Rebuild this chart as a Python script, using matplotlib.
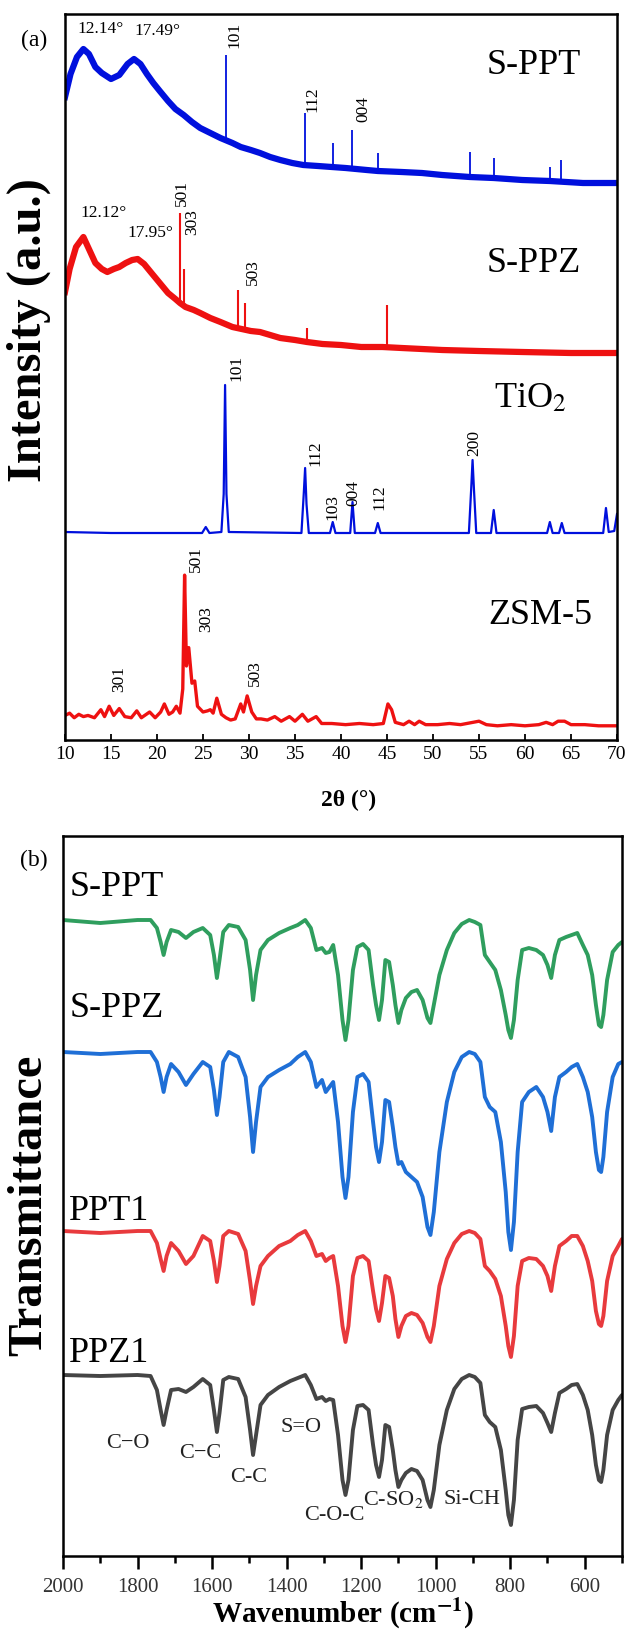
import numpy as np
import matplotlib
matplotlib.use("Agg")
import matplotlib.pyplot as plt
from matplotlib.ticker import MultipleLocator

plt.rcParams["font.family"] = ["Liberation Serif", "DejaVu Serif"]
plt.rcParams["mathtext.fontset"] = "stix"

# ---------------- (a) XRD data (2theta, intensity a.u.) ----------------
# S-PPT amorphous background + sharp TiO2 reflections
ppt_x = [10.0, 10.6, 11.3, 12.0, 12.6, 13.3, 14.0, 15.0, 15.9, 16.8, 17.5, 18.2,
         18.9, 19.6, 20.3, 21.2, 22.0, 22.9, 23.8, 24.7, 25.8, 26.9, 28.2, 29.1,
         30.2, 31.2, 32.3, 33.4, 34.7, 35.9, 37.5, 39.0, 40.5, 42.8, 44.0, 46.6,
         48.8, 51.0, 54.0, 56.6, 59.7, 62.7, 66.3, 70.0]
ppt_y = [612, 635, 652, 660, 655, 642, 636, 630, 634, 645, 650, 645,
         635, 626, 618, 608, 600, 594, 587, 581, 576, 571, 566, 562,
         559, 556, 552, 549, 546, 544, 543, 542, 541, 539, 538, 537,
         536, 534, 532, 531, 529, 528, 526, 526]
ppt_peak_x = [27.45, 36.05, 39.1, 41.25, 44.0, 54.0, 56.6, 62.7, 63.9]
ppt_peak_top = [654, 596, 566, 579, 556, 557, 551, 542, 549]
ppt_peak_base = [569, 544, 542, 540, 538, 532, 531, 528, 527]

# S-PPZ amorphous background + sharp ZSM-5 reflections
ppz_x = [10.0, 10.5, 11.2, 12.0, 12.7, 13.3, 14.0, 14.6, 15.3, 15.9, 16.6, 17.3,
         17.9, 18.6, 19.4, 20.3, 21.2, 22.0, 22.5, 23.1, 24.0, 24.7, 25.8, 26.9,
         28.2, 29.2, 30.2, 31.2, 32.3, 33.4, 35.0, 36.3, 38.0, 40.0, 42.2, 44.5,
         46.6, 48.8, 51.0, 55.0, 59.7, 65.0, 70.0]
ppz_y = [417, 440, 462, 472, 458, 446, 440, 437, 440, 442, 446, 449,
         450, 445, 436, 426, 416, 410, 406, 402, 399, 396, 391, 387,
         382, 380, 378, 377, 374, 371, 369, 367, 365, 364, 362, 362,
         361, 360, 359, 358, 357, 356, 356]
ppz_peak_x = [22.55, 22.9, 28.8, 29.6, 36.3, 45.0]
ppz_peak_top = [496, 440, 419, 406, 381, 404]
ppz_peak_base = [406, 402, 381, 379, 367, 362]

tio2_x = [10.0, 15.0, 20.0, 24.9, 25.3, 25.7, 27.0, 27.25, 27.4, 27.55, 27.8,
          35.7, 35.95, 36.1, 36.25, 36.5, 38.8, 39.1, 39.4, 41.0, 41.25, 41.5,
          43.7, 44.0, 44.3, 53.9, 54.15, 54.3, 54.45, 54.7, 56.3, 56.6, 56.9,
          62.4, 62.7, 63.0, 63.7, 64.0, 64.3, 68.5, 68.8, 69.1, 69.7, 70.0]
tio2_y = [177, 176, 176, 176, 182, 176, 177, 215, 324, 215, 177,
          176, 215, 241, 205, 176, 176, 187, 176, 176, 207, 176,
          176, 186, 176, 176, 220, 249, 220, 176, 176, 199, 176,
          176, 187, 176, 176, 186, 176, 176, 201, 177, 178, 195]

zsm_x = [10.0, 10.5, 11.0, 11.5, 12.0, 12.5, 13.2, 13.9, 14.3, 14.8, 15.3, 15.9,
         16.5, 17.2, 17.8, 18.3, 19.2, 19.8, 20.4, 20.8, 21.3, 21.7, 22.1, 22.5,
         22.8, 23.0, 23.2, 23.45, 23.8, 24.1, 24.4, 25.0, 25.5, 25.8, 26.1, 26.5,
         27.0, 27.5, 28.0, 28.5, 29.1, 29.4, 29.8, 30.3, 30.8, 31.3, 32.0, 32.8,
         33.5, 34.4, 35.0, 35.8, 36.4, 37.3, 37.9, 39.0, 40.5, 42.0, 43.5, 44.6,
         45.1, 45.5, 45.9, 46.8, 47.4, 48.0, 48.5, 49.2, 50.5, 51.8, 53.0, 55.0,
         55.8, 57.0, 58.5, 60.0, 61.5, 62.3, 63.0, 63.6, 64.3, 65.0, 66.5, 68.0,
         69.0, 70.0]
zsm_y = [17, 19, 15, 18, 16, 17, 15, 22, 16, 25, 17, 23,
         16, 15, 21, 15, 20, 15, 20, 27, 18, 20, 25, 19,
         40, 139, 60, 76, 45, 47, 25, 20, 21, 22, 19, 32,
         18, 15, 13, 14, 27, 20, 34, 20, 14, 14, 13, 16,
         12, 16, 12, 18, 12, 16, 10, 10, 9, 10, 9, 10,
         27, 22, 11, 9, 12, 9, 12, 9, 9, 10, 9, 12,
         9, 8, 9, 8, 9, 11, 9, 12, 12, 9, 9, 8,
         8, 8]

# ---------------- (b) FTIR data (relative transmittance, a.u.) ----------------
wn = [2000, 1900, 1800, 1765, 1748, 1738, 1730, 1722, 1710, 1690, 1670, 1650,
      1625, 1605, 1595, 1587, 1580, 1570, 1555, 1530, 1510, 1498, 1490, 1482,
      1470, 1450, 1420, 1390, 1370, 1350, 1335, 1320, 1305, 1295, 1285, 1275,
      1262, 1250, 1242, 1234, 1222, 1210, 1195, 1180, 1168, 1160, 1152, 1144,
      1135, 1125, 1115, 1108, 1100, 1092, 1080, 1065, 1050, 1035, 1022, 1014,
      1005, 990, 970, 950, 930, 910, 895, 880, 868, 855, 840, 825,
      812, 805, 798, 790, 780, 768, 750, 730, 712, 700, 690, 680,
      668, 650, 635, 620, 605, 592, 580, 570, 562, 556, 550, 540,
      525, 510, 500]
s_ppt = [0, -3, 0, 0, -8, -22, -35, -22, -10, -12, -18, -12,
         -8, -15, -35, -58, -40, -12, -5, -7, -20, -50, -80, -55,
         -30, -20, -13, -8, -5, 0, -8, -30, -28, -33, -32, -25,
         -55, -100, -120, -100, -50, -27, -24, -30, -65, -85, -100, -80,
         -40, -42, -65, -85, -103, -90, -78, -72, -70, -80, -98, -103,
         -85, -55, -30, -13, -4, 0, -2, -5, -35, -42, -50, -70,
         -95, -110, -118, -100, -60, -30, -28, -30, -35, -45, -58, -35,
         -20, -17, -15, -13, -25, -35, -55, -85, -105, -107, -95, -60,
         -32, -25, -22]
s_ppz = [0, -2, 0, 0, -10, -25, -40, -25, -12, -20, -33, -22,
         -10, -15, -38, -63, -45, -10, 0, -5, -25, -65, -100, -70,
         -35, -25, -18, -12, -5, 0, -10, -35, -28, -40, -35, -30,
         -70, -125, -146, -125, -60, -25, -22, -30, -70, -95, -110, -90,
         -48, -50, -75, -95, -112, -110, -120, -125, -130, -145, -175, -183,
         -160, -100, -50, -20, -5, 0, -2, -10, -45, -55, -60, -90,
         -140, -180, -198, -170, -100, -50, -40, -35, -45, -60, -79, -45,
         -25, -20, -15, -12, -25, -40, -65, -100, -118, -120, -105, -60,
         -25, -12, -10]
ppt1 = [0, -2, 0, 0, -12, -28, -40, -25, -12, -20, -33, -25,
        -5, -10, -30, -51, -35, -5, 0, -3, -20, -50, -73, -55,
        -35, -25, -15, -10, -4, 0, -10, -25, -23, -30, -27, -25,
        -55, -95, -111, -95, -45, -27, -25, -30, -60, -78, -90, -72,
        -45, -47, -65, -88, -106, -95, -85, -82, -84, -92, -106, -111,
        -95, -55, -28, -12, -3, 0, -2, -8, -35, -40, -48, -65,
        -95, -115, -126, -105, -55, -30, -27, -28, -35, -45, -60, -35,
        -15, -10, -5, -5, -15, -30, -50, -80, -93, -95, -85, -50,
        -25, -15, -8]
ppz1 = [0, -1, 0, -1, -15, -35, -50, -35, -15, -14, -17, -12,
        -4, -10, -35, -57, -38, -5, -2, -4, -22, -55, -80, -60,
        -30, -20, -12, -6, -3, 0, -10, -24, -22, -26, -24, -25,
        -60, -105, -120, -105, -55, -31, -30, -35, -70, -90, -102, -85,
        -50, -52, -75, -95, -112, -105, -98, -94, -96, -105, -125, -132,
        -115, -70, -35, -14, -4, 0, -2, -8, -40, -47, -52, -75,
        -115, -140, -150, -125, -65, -34, -32, -31, -38, -48, -57, -38,
        -18, -14, -10, -9, -20, -35, -60, -90, -105, -107, -95, -60,
        -35, -25, -20]

ftir_names = ["S-PPT", "S-PPZ", "PPT1", "PPZ1"]
ftir_series = [s_ppt, s_ppz, ppt1, ppz1]
ftir_colors = ["#2f9e5e", "#1f6fd6", "#e83a3d", "#454545"]

band_labels = ["C\u2212O", "C\u2212C", "C-C", "S=O", "C-O-C", "C-SO$_2$", "Si-CH"]
band_x = [1826, 1633, 1501, 1362, 1271, 1113, 903]
band_y = [112, 102, 79, 129, 40, 57, 57]


def main():
    fig = plt.figure(figsize=(6.3, 16.3), dpi=100)
    W, H = 630.0, 1630.0

    # ---------------- panel (a) ----------------
    a_top, a_bot = 14, 740
    ax1 = fig.add_axes([65 / W, 1 - a_bot / H, (617 - 65) / W, (a_bot - a_top) / H])
    blue, red = "#0010dd", "#ee1111"
    ax1.plot(ppt_x, ppt_y, color=blue, lw=4.5, solid_joinstyle="round")
    ax1.vlines(ppt_peak_x, ppt_peak_base, ppt_peak_top, color=blue, lw=1.3)
    ax1.plot(ppz_x, ppz_y, color=red, lw=4.5, solid_joinstyle="round")
    ax1.vlines(ppz_peak_x, ppz_peak_base, ppz_peak_top, color=red, lw=1.5)
    ax1.plot(tio2_x, tio2_y, color=blue, lw=1.6)
    # ZSM-5 trace stacked at the bottom of the panel
    ax1.plot(zsm_x, np.array(zsm_y) * 1.15 - 26, color=red, lw=2.4)

    ax1.set_xlim(10, 70)
    ax1.set_ylim(-(a_bot - 709), 695)
    ax1.set_yticks([])
    ax1.xaxis.set_major_locator(MultipleLocator(5))
    ax1.tick_params(axis="x", direction="in", length=4, width=1.3,
                    labelsize=14, pad=4)
    for s in ax1.spines.values():
        s.set_linewidth(1.8)

    big = 26
    ax1.text(60.9, 644, "S-PPT", fontsize=big, ha="center", va="center")
    ax1.text(61.0, 446, "S-PPZ", fontsize=big, ha="center", va="center")
    ax1.text(60.6, 310, "TiO$_2$", fontsize=big, ha="center", va="center")
    ax1.text(61.7, 94, "ZSM-5", fontsize=big, ha="center", va="center")

    sm = 12.5
    ax1.text(13.9, 680, "12.14°", fontsize=sm, ha="center", va="center")
    ax1.text(20.0, 678, "17.49°", fontsize=sm, ha="center", va="center")
    ax1.text(14.2, 496, "12.12°", fontsize=sm, ha="center", va="center")
    ax1.text(19.3, 476, "17.95°", fontsize=sm, ha="center", va="center")
    rot = [(28.4, 674, "101"), (36.9, 610, "112"), (42.4, 600, "004"),
           (22.7, 516, "501"), (23.8, 487, "303"), (30.4, 437, "503"),
           (28.6, 341, "101"), (37.2, 256, "112"), (39.1, 202, "103"),
           (41.3, 216, "004"), (44.2, 212, "112"), (54.5, 266, "200"),
           (15.9, 30, "301"), (24.2, 150, "501"), (25.3, 90, "303"),
           (30.6, 36, "503")]
    for x, y, t in rot:
        ax1.text(x, y, t, fontsize=sm, rotation=90, ha="center", va="center")

    fig.text(34 / W, 1 - 40 / H, "(a)", fontsize=17, ha="center", va="center")
    fig.text(29 / W, 1 - 330 / H, "Intensity (a.u.)", fontsize=35,
             fontweight="bold", rotation=90, ha="center", va="center")
    fig.text(349 / W, 1 - 800 / H, "2\u03b8 (°)", fontsize=17,
             fontweight="bold", ha="center", va="center")

    # ---------------- panel (b) ----------------
    b_top, b_bot = 836, 1556
    ax2 = fig.add_axes([63 / W, 1 - b_bot / H, (622 - 63) / W, (b_bot - b_top) / H])
    offsets = [636, 504, 325, 181]
    name_y = [669, 548, 345, 202]
    for name, vals, c, off, ny in zip(ftir_names, ftir_series, ftir_colors,
                                      offsets, name_y):
        ax2.plot(wn, np.array(vals) + off, color=c, lw=2.8,
                 solid_joinstyle="round", solid_capstyle="round")
        ax2.text(1983, ny, name, fontsize=big, ha="left", va="center")

    for t, x, y in zip(band_labels, band_x, band_y):
        ax2.text(x, y, t, fontsize=16, ha="center", va="center", color="#222222")

    ax2.set_xlim(2000, 500)
    ax2.set_ylim(0, b_bot - b_top)
    ax2.set_yticks([])
    ax2.xaxis.set_major_locator(MultipleLocator(200))
    ax2.xaxis.set_minor_locator(MultipleLocator(100))
    ax2.tick_params(axis="x", which="major", direction="out", length=9,
                    width=1.8, labelsize=15, pad=7, labelcolor="#333333")
    ax2.tick_params(axis="x", which="minor", direction="out", length=5, width=1.8)
    for s in ax2.spines.values():
        s.set_linewidth(1.8)

    fig.text(34 / W, 1 - 860 / H, "(b)", fontsize=17, ha="center", va="center")
    fig.text(29 / W, 1 - 1205 / H, "Transmittance", fontsize=35,
             fontweight="bold", rotation=90, ha="center", va="center")
    fig.text(343 / W, 1 - 1614 / H, "Wavenumber (cm$^{\\mathbf{-1}}$)",
             fontsize=21, fontweight="bold", ha="center", va="center")

    fig.savefig("out.png", dpi=100)


if __name__ == "__main__":
    main()
